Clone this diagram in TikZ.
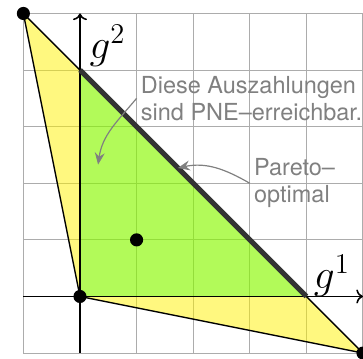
\documentclass[tikz,border=0pt]{standalone}
\usepackage{fontspec}
\newfontfamily\helv{TeX Gyre Heros}
\usetikzlibrary{arrows.meta}
\tikzset{
  gridline/.style={gray!65, line width=0.5pt},
  axis/.style={->, line width=0.8pt},
  border/.style={line width=0.7pt, line join=round},
  pareto/.style={line width=2.6pt, black!80},
  dot/.style={circle, fill=black, inner sep=0pt, minimum size=6.6pt},
  glabel/.style={font=\huge, inner sep=0pt},
  note/.style={font=\helv\fontsize{11.8}{13.5}\selectfont, text=gray, align=left, anchor=west, inner sep=2pt},
  notearrow/.style={gray, line width=0.6pt, -{Stealth[length=6pt, width=5pt, inset=2pt]}}
}
\begin{document}
\begin{tikzpicture}
\useasboundingbox (-1.413,-1.093) rectangle (5,5.238);
\draw[gridline] (-1,-1) grid (5,5);
\coordinate (A) at (-1,5);
\coordinate (O) at (0,0);
\coordinate (B) at (5,-1);
\coordinate (P) at (0,4);
\coordinate (Q) at (4,0);
\coordinate (M) at (1,1);
\fill[yellow, fill opacity=0.5] (A) -- (O) -- (B) -- cycle;
\draw[border] (A) -- (O) -- (B) -- cycle;
\fill[green, fill opacity=0.3] (O) -- (P) -- (Q) -- cycle;
\coordinate (xs) at (-1,0);
\coordinate (xe) at (5,0);
\coordinate (ys) at (0,-1);
\coordinate (ye) at (0,5);
\draw[axis] (xs) -- (xe);
\draw[axis] (ys) -- (ye);
\draw[pareto] (P) -- (Q);
\node[dot] (dA) at (A) {};
\node[dot] (dO) at (O) {};
\node[dot] (dB) at (B) {};
\node[dot] (dM) at (M) {};
\node[glabel] (g2) at (0.485,4.43) {$g^2$};
\node[glabel] (g1) at (4.45,0.37) {$g^1$};
\node[note] (n1) at (1,3.5) {Diese Auszahlungen\\sind PNE–erreichbar.};
\node[note] (n2) at (3,2) {Pareto–\\optimal};
\coordinate (t1) at (0.32,2.33);
\coordinate (t2) at (1.73,2.27);
\draw[notearrow] (n1.west) to[out=-130, in=82] (t1);
\draw[notearrow] (n2.west) to[out=150, in=12] (t2);
\end{tikzpicture}
\end{document}
